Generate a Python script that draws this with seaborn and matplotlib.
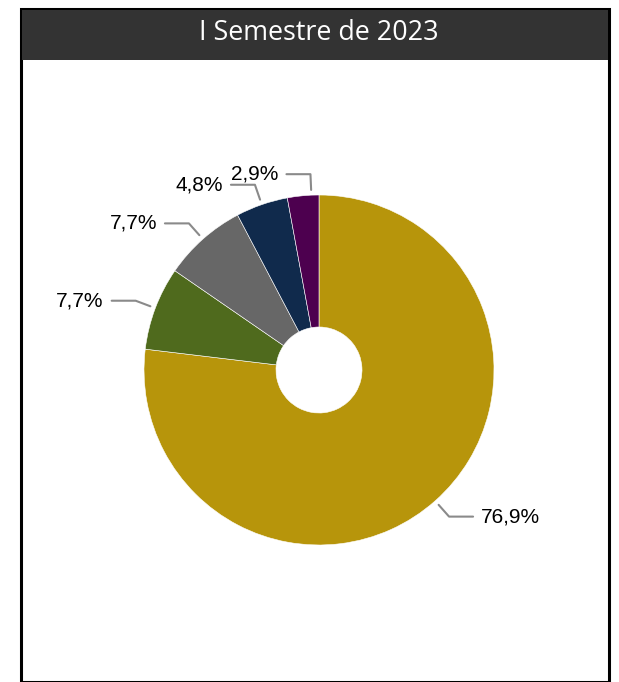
"""Donut chart: I Semestre de 2023."""

import numpy as np
import matplotlib

matplotlib.use("Agg")
import matplotlib.pyplot as plt
from matplotlib.lines import Line2D
from matplotlib.patches import Rectangle
import seaborn as sns

# data (clockwise from 12 o'clock)
shares = [76.9, 7.7, 7.7, 4.8, 2.9]
labels = ["76,9%", "7,7%", "7,7%", "4,8%", "2,9%"]
colors = ["#B7950B", "#4F6A1D", "#676767", "#102A4C", "#4D004F"]

TITLE = "I Semestre de 2023"

W, H = 619, 682
CX, CY, R = 319, 370, 175  # pie centre / radius in pixels (from top-left)


def main() -> None:
    sns.set_theme(style="white")
    plt.rcParams["font.family"] = ["Liberation Sans", "DejaVu Sans"]

    fig = plt.figure(figsize=(W / 100, H / 100), dpi=100)
    fig.patch.set_facecolor("white")

    # outer frame and dark header band
    fig.add_artist(Rectangle((21 / W, 0), (609 - 21) / W, 1 - 9 / H,
                             transform=fig.transFigure, fill=False,
                             edgecolor="black", linewidth=2.2, clip_on=False))
    fig.add_artist(Rectangle((22 / W, 1 - 60 / H), (608 - 22) / W, 50 / H,
                             transform=fig.transFigure, facecolor="#333333",
                             edgecolor="none"))
    fig.text(CX / W, 1 - 33 / H, TITLE, color="white", ha="center", va="center",
             fontsize=19.4, family=["Open Sans", "DejaVu Sans"])

    # square axes where one data unit equals the pie radius
    side = 560
    ax = fig.add_axes([(CX - side / 2) / W, 1 - (CY + side / 2) / H, side / W, side / H])

    wedges, _ = ax.pie(shares, colors=colors, startangle=90, counterclock=False,
                       radius=1.0, wedgeprops=dict(width=1 - 43 / R, edgecolor="white",
                                                   linewidth=0.4))
    lim = side / 2 / R
    ax.set_xlim(-lim, lim)
    ax.set_ylim(-lim, lim)
    ax.set_axis_off()

    # leader lines and labels
    for i, (w, lab) in enumerate(zip(wedges, labels)):
        ang = (w.theta1 + w.theta2) / 2
        if i == len(wedges) - 1:
            ang = w.theta1 + 2.5  # smallest slice: line sits near 12 o'clock
        a = np.deg2rad(ang)
        x0, y0 = 1.03 * np.cos(a), 1.03 * np.sin(a)
        x1, y1 = 1.12 * np.cos(a), 1.12 * np.sin(a)
        side_sign = 1 if np.cos(a) > 0.2 else -1
        x2 = x1 + side_sign * 24 / R
        ax.add_line(Line2D([x0, x1, x2], [y0, y1, y1], color="#8a8a8a",
                           linewidth=1.5, clip_on=False))
        ax.text(x2 + side_sign * 8 / R, y1, lab, fontsize=15, color="black",
                ha="left" if side_sign > 0 else "right", va="center", clip_on=False)

    fig.savefig("out.png", dpi=100, facecolor="white")
    plt.close(fig)


if __name__ == "__main__":
    main()
